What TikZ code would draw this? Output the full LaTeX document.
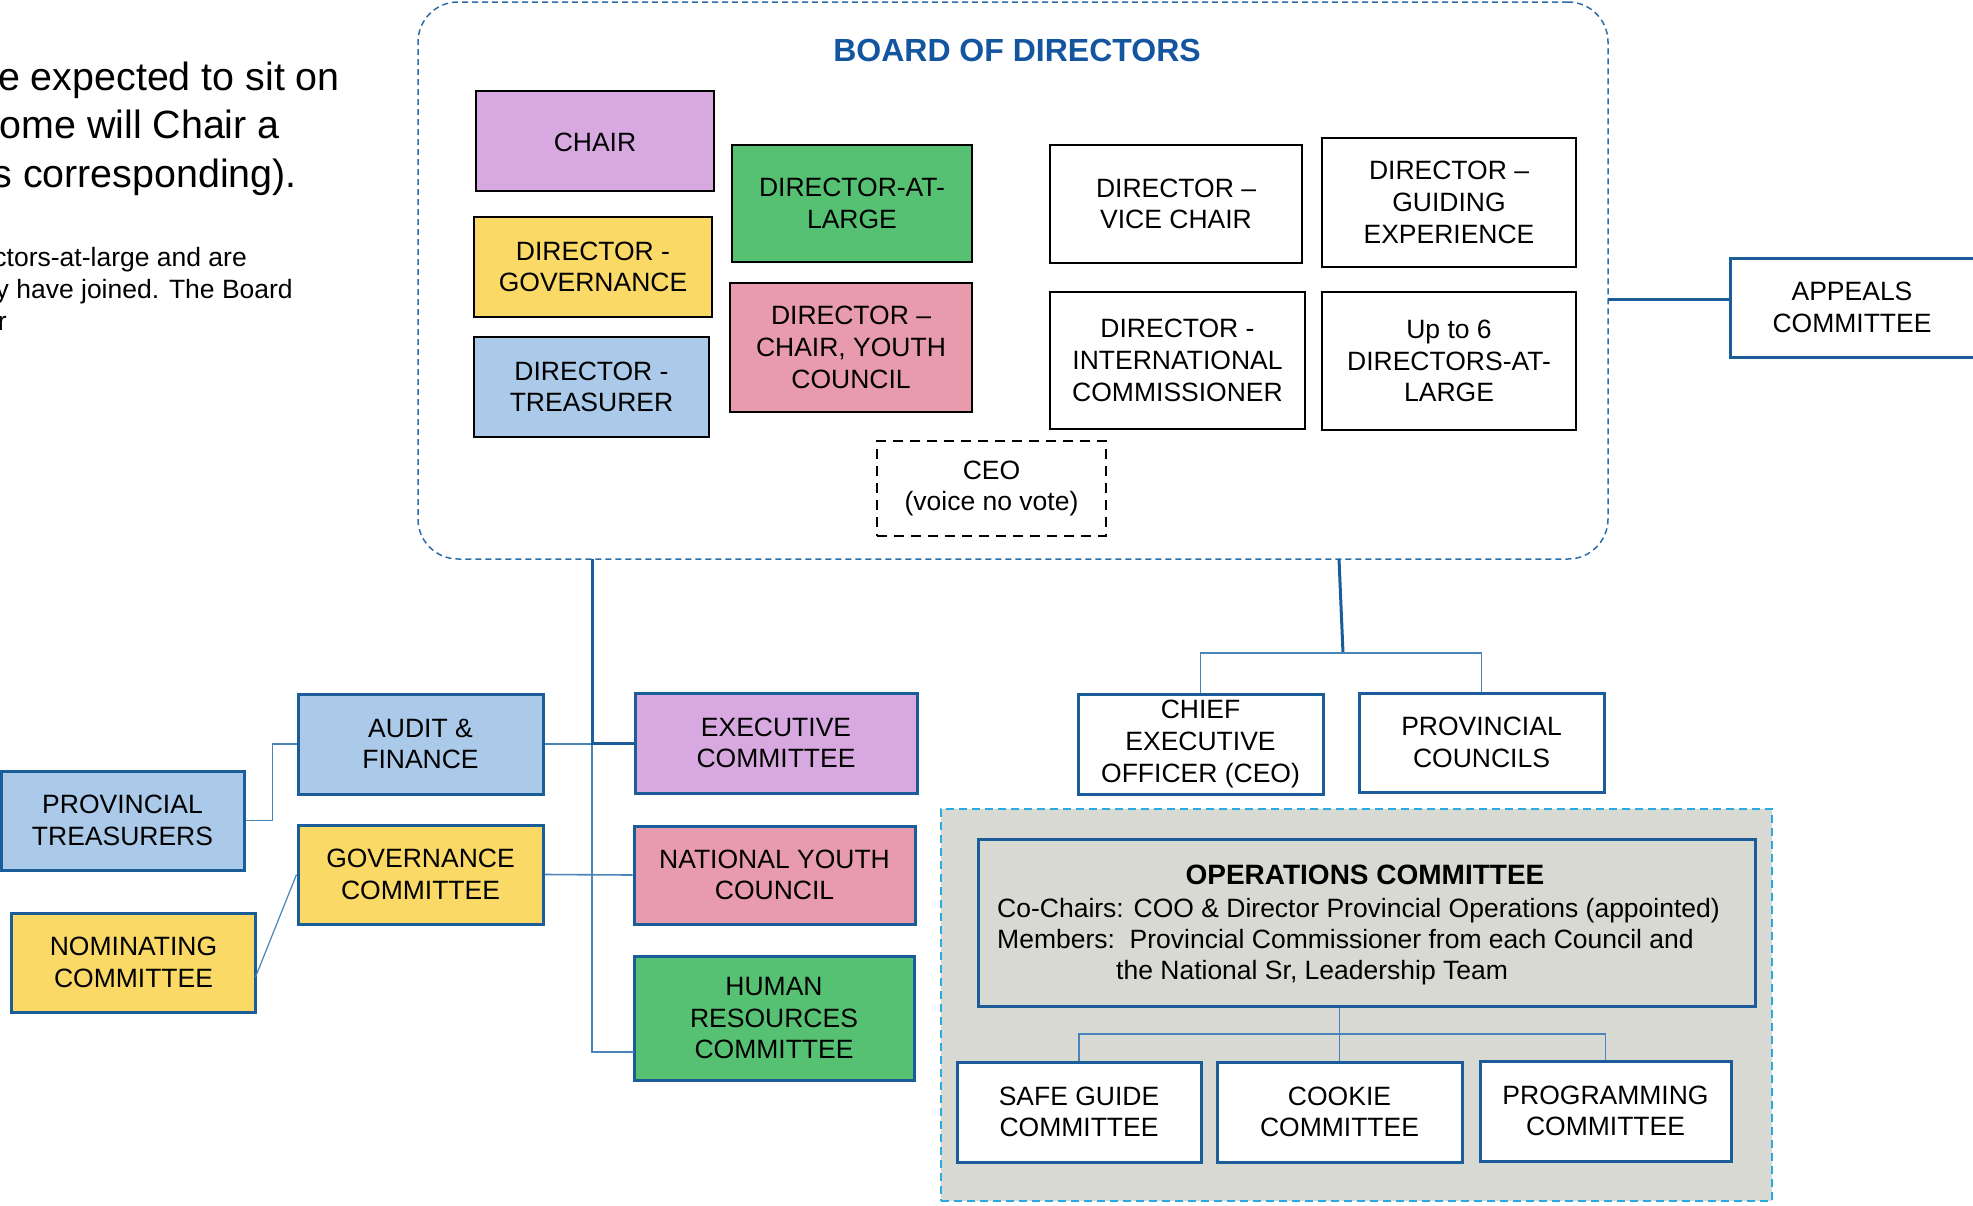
\documentclass[tikz,border=0pt]{standalone}
\usepackage{fontspec}
\setmainfont{Liberation Sans}
\usetikzlibrary{calc}

% palette
\definecolor{dkblue}{RGB}{26,93,153}
\definecolor{lnblue}{RGB}{74,133,186}
\definecolor{ttlblue}{RGB}{20,85,160}
\definecolor{frmblue}{RGB}{46,110,168}
\definecolor{opsdash}{RGB}{41,170,225}
\definecolor{opsgray}{RGB}{217,217,212}
\definecolor{lav}{RGB}{216,169,224}
\definecolor{ylw}{RGB}{250,217,102}
\definecolor{lblu}{RGB}{171,201,233}
\definecolor{pnk}{RGB}{232,155,172}
\definecolor{grn}{RGB}{86,193,114}

% font sizes (1pt = 1 unit of the grid)
\newcommand\fsBox{\fontsize{26.5}{31.7}\selectfont}
\newcommand\fsBig{\fontsize{39.4}{48.3}\selectfont}
\newcommand\fsTitle{\bfseries\fontsize{32}{36}\selectfont}
\newcommand\fsOpsHead{\bfseries\fontsize{28}{31}\selectfont}
% a tall invisible strut that sets the first line a little lower in its box
\newcommand\boxstrut{\rule{0pt}{21.5pt}}

\begin{document}
\begin{tikzpicture}[x=1pt,y=-1pt,
  sz/.style 2 args={minimum width=#1pt,minimum height=#2pt},
  dirbox/.style={draw=black,line width=2.5pt,align=center,inner sep=0pt,font=\fsBox,
                 execute at begin node=\boxstrut},
  combox/.style={draw=dkblue,line width=3pt,align=center,inner sep=0pt,font=\fsBox,
                 execute at begin node=\boxstrut},
  thickline/.style={draw=dkblue,line width=3pt},
  thinline/.style={draw=lnblue,line width=1.6pt},
  txt/.style={inner sep=0pt,anchor=base east},
]
\useasboundingbox (0,0) rectangle (1973,1205);

% ---- paragraph fragments at the left edge
\node[txt,font=\fsBig] (p1) at (340,90) {e expected to sit on};
\node[txt,font=\fsBig] (p2) at (280,138.5) {ome will Chair a};
\node[txt,font=\fsBig] (p3) at (297,187) {s corresponding).};
\node[txt,font=\fsBox] (q1) at (247,266.7) {ctors-at-large and are};
\node[txt,font=\fsBox] (q2) at (293,298.3) {y have joined. The Board};
\node[txt,font=\fsBox] (q3) at (7,330) {r};

% ---- board of directors frame
\node[draw=frmblue,line width=1.5pt,dash pattern=on 6pt off 4pt,
      rounded corners=40pt,sz={1190}{557},inner sep=0pt] (board) at (1013,280.5) {};
\node[font=\fsTitle,text=ttlblue,anchor=base,inner sep=0pt] (title) at (1017,61) {BOARD OF DIRECTORS};

\node[dirbox,fill=lav,sz={238}{100}] (chair) at (595,141) {CHAIR};
\node[dirbox,fill=ylw,sz={238}{100}] (dgov) at (593,267) {DIRECTOR -\\GOVERNANCE};
\node[dirbox,fill=lblu,sz={235}{100}] (dtreas) at (591.5,387) {DIRECTOR -\\TREASURER};
\node[dirbox,fill=grn,sz={240}{117}] (dlarge) at (852,203.5) {DIRECTOR-AT-\\LARGE};
\node[dirbox,fill=pnk,sz={242}{129}] (dyouth) at (851,347.5) {DIRECTOR –\\CHAIR, YOUTH\\COUNCIL};
\node[dirbox,dash pattern=on 10pt off 7pt,sz={229}{95}] (ceob) at (991.5,488.5) {CEO\\(voice no vote)};
\node[dirbox,sz={252}{118}] (dvice) at (1176,204) {DIRECTOR –\\VICE CHAIR};
\node[dirbox,sz={254}{129}] (dguide) at (1449,202.5) {DIRECTOR –\\GUIDING\\EXPERIENCE};
\node[dirbox,sz={255}{137}] (dintl) at (1177.5,360.5) {DIRECTOR -\\INTERNATIONAL\\COMMISSIONER};
\node[dirbox,sz={254}{138}] (dupto) at (1449,361) {Up to 6\\DIRECTORS-AT-\\LARGE};

% ---- appeals
\node[combox,sz={244}{99}] (appeals) at (1852,307.5) {APPEALS\\COMMITTEE};
\coordinate (bR) at (1608,299);
\draw[thickline] (bR) -- (bR -| appeals.west);

% ---- board committees (left)
\node[combox,fill=lblu,sz={245}{100}] (audit) at (420.5,744) {AUDIT \&\\FINANCE};
\node[combox,fill=ylw,sz={245}{99}] (govc) at (420.5,874.5) {GOVERNANCE\\COMMITTEE};
\node[combox,fill=lblu,sz={243}{99}] (provt) at (122.5,820.5) {PROVINCIAL\\TREASURERS};
\node[combox,fill=ylw,sz={244}{99}] (nomc) at (133.5,962.5) {NOMINATING\\COMMITTEE};
\node[combox,fill=lav,sz={282}{100}] (execc) at (776,743) {EXECUTIVE\\COMMITTEE};
\node[combox,fill=pnk,sz={281}{98}] (nyc) at (774.5,875) {NATIONAL YOUTH\\COUNCIL};
\node[combox,fill=grn,sz={280}{124}] (hrc) at (774,1018) {HUMAN\\RESOURCES\\COMMITTEE};

\coordinate (trunkTop) at (592,559);
\coordinate (trunkMid) at (592,743);
\coordinate (hrIn) at (634,1052);
\draw[thinline] (trunkMid) |- (hrIn);
\draw[thinline] (audit.east) -- (audit.east -| trunkMid);
\draw[thinline] (govc.east) -- (nyc.west);
\draw[thickline] (trunkTop) |- (execc.west);
\draw[thinline] (provt.east) -- ++(27,0) |- (audit.west);
\coordinate (nomOut) at (255.5,977);
\draw[thinline,line width=1.2pt] (nomOut) -- (govc.west);

% ---- operations side
\node[combox,sz={245}{100}] (ceoff) at (1200.5,744) {CHIEF\\EXECUTIVE\\OFFICER (CEO)};
\node[combox,sz={245}{99}] (provc) at (1481.5,742.5) {PROVINCIAL\\COUNCILS};
\coordinate (bB) at (1339,559);
\coordinate (rbus) at (1343,653);
\draw[thickline] (bB) -- (rbus);
\draw[thinline] (ceoff.north) |- (rbus) -| (provc.north);

\node[draw=opsdash,line width=2pt,dash pattern=on 8pt off 5pt,fill=opsgray,
      sz={831}{392},inner sep=0pt] (opsarea) at (1356.5,1005) {};
\node[draw=dkblue,line width=3pt,fill=opsgray,sz={777}{167},inner sep=0pt] (opsc) at (1366.5,922.5) {};
\node[font=\fsOpsHead,anchor=base,inner sep=0pt] (opsh) at (1365,884) {OPERATIONS COMMITTEE};
\node[font=\fsBox,anchor=base west,inner sep=0pt] (opsa) at (997,917) {Co-Chairs: COO \& Director Provincial Operations (appointed)};
\node[font=\fsBox,anchor=base west,inner sep=0pt] (opsb) at (997,948) {Members:\ \ Provincial Commissioner from each Council and};
\node[font=\fsBox,anchor=base west,inner sep=0pt] (opsd) at (1116,979) {the National Sr, Leadership Team};

\node[combox,fill=white,sz={244}{100}] (safe) at (1079,1112) {SAFE GUIDE\\COMMITTEE};
\node[combox,fill=white,sz={245}{100}] (cookie) at (1339.5,1112) {COOKIE\\COMMITTEE};
\node[combox,fill=white,sz={251}{100}] (prog) at (1605.5,1111) {PROGRAMMING\\COMMITTEE};
\coordinate (obus) at (1339.5,1034);
\draw[thinline] (cookie.north) -- (cookie.north |- opsc.south);
\draw[thinline] (safe.north) |- (obus) -| (prog.north);
\end{tikzpicture}
\end{document}
